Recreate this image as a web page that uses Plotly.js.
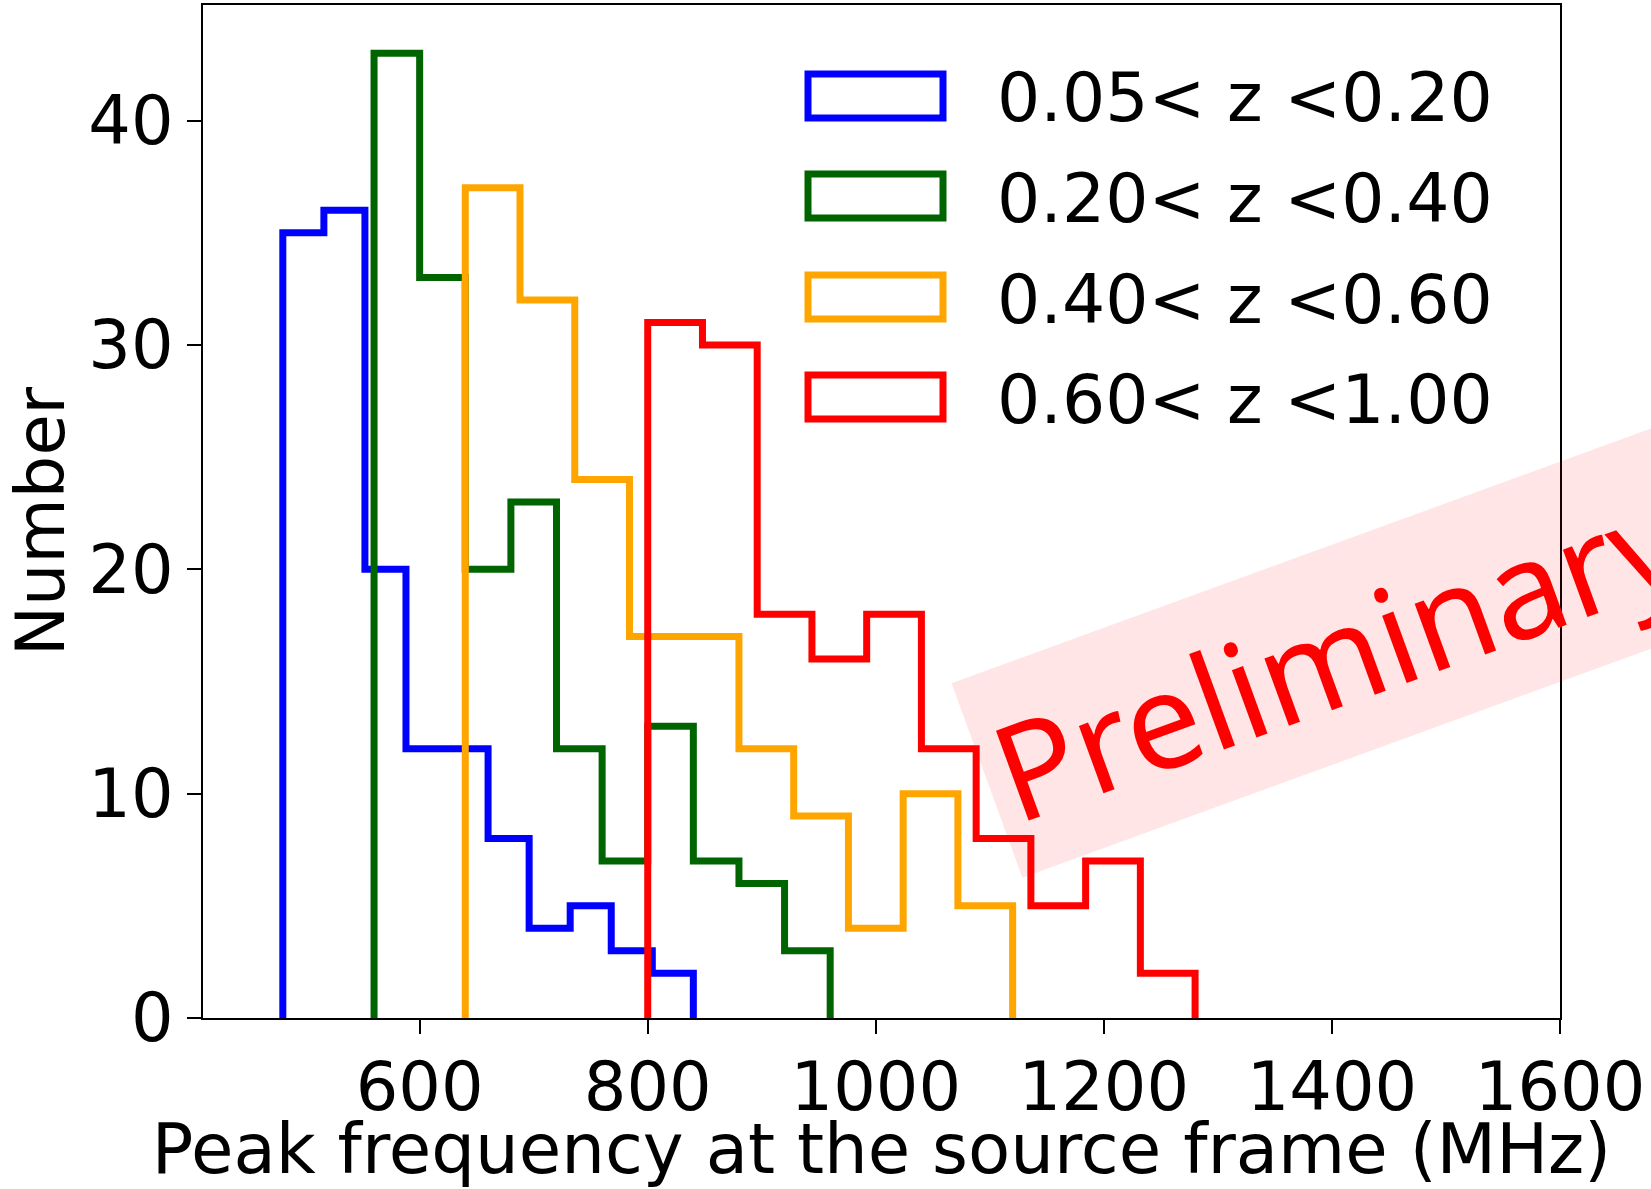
<!DOCTYPE html>
<html>
<head>
<meta charset="utf-8">
<script src="https://cdn.plot.ly/plotly-3.0.1.min.js"></script>
<style>html,body{margin:0;padding:0;background:#fff;}#chart{width:1651px;height:1189px;}</style>
</head>
<body>
<div id="chart"></div>
<script>
// ---- data ----
const seriesLabels = ["0.05< z <0.20", "0.20< z <0.40", "0.40< z <0.60", "0.60< z <1.00"];
const seriesColors = ["#0000ff", "#006400", "#ffa500", "#ff0000"];

const edgesZ1 = [480, 516, 552, 588, 624, 660, 696, 732, 768, 804, 840];
const countsZ1 = [35, 36, 20, 12, 12, 8, 4, 5, 3, 2];

const edgesZ2 = [560, 600, 640, 680, 720, 760, 800, 840, 880, 920, 960];
const countsZ2 = [43, 33, 20, 23, 12, 7, 13, 7, 6, 3];

const edgesZ3 = [640, 688, 736, 784, 832, 880, 928, 976, 1024, 1072, 1120];
const countsZ3 = [37, 32, 24, 17, 17, 12, 9, 4, 10, 5];

const edgesZ4 = [800, 848, 896, 944, 992, 1040, 1088, 1136, 1184, 1232, 1280];
const countsZ4 = [31, 30, 18, 16, 18, 12, 8, 5, 7, 2];

const xTickVals = [600, 800, 1000, 1200, 1400, 1600];
const yTickVals = [0, 10, 20, 30, 40];

// ---- build step outlines (matplotlib histtype='step') ----
function stepTrace(edges, counts, color, name) {
  const x = [edges[0]];
  const y = [0];
  for (let i = 0; i < counts.length; i++) { x.push(edges[i]); y.push(counts[i]); }
  x.push(edges[edges.length - 1]); y.push(0);
  return {
    type: "scatter", mode: "lines", x: x, y: y, name: name,
    line: { color: color, width: 7, shape: "hv" },
    showlegend: false, hoverinfo: "skip"
  };
}

const allEdges = [edgesZ1, edgesZ2, edgesZ3, edgesZ4];
const allCounts = [countsZ1, countsZ2, countsZ3, countsZ4];
const traces = allEdges.map((e, i) => stepTrace(e, allCounts[i], seriesColors[i], seriesLabels[i]));

// ---- geometry ----
const W = 1651, H = 1189;
const plotL = 203, plotR = 1560, plotT = 5, plotB = 1018;
const px2x = p => (p - plotL) / (plotR - plotL);
const py2y = p => (plotB - p) / (plotB - plotT);

const FONT = "DejaVu Sans";
const FS = 67;

// custom legend (outlined rectangles like matplotlib patches)
const legendRowsPx = [96, 196, 297, 397];
const shapes = [];
const annotations = [];
seriesLabels.forEach((lab, i) => {
  const cy = legendRowsPx[i];
  shapes.push({
    type: "rect", xref: "paper", yref: "paper",
    x0: px2x(808), x1: px2x(943), y0: py2y(cy + 22), y1: py2y(cy - 22),
    line: { color: seriesColors[i], width: 7 }, fillcolor: "rgba(0,0,0,0)"
  });
  annotations.push({
    xref: "paper", yref: "paper", x: px2x(995), y: py2y(cy + 2),
    xanchor: "left", yanchor: "middle", showarrow: false,
    text: lab.replace(/</g, "&lt;"),
    font: { family: FONT, size: 68, color: "#000" }
  });
});

// y-axis title placed like matplotlib's
annotations.push({
  xref: "paper", yref: "paper", x: px2x(41), y: py2y(521),
  xanchor: "center", yanchor: "middle", showarrow: false,
  text: "Number", textangle: -90,
  font: { family: FONT, size: FS, color: "#000" }
});

// watermark
annotations.push({
  xref: "paper", yref: "paper", x: px2x(1337), y: py2y(653),
  xanchor: "center", yanchor: "middle", showarrow: false,
  text: "Preliminary", textangle: -20,
  font: { family: "Noto Sans", size: 134, color: "#ff0000" },
  bgcolor: "rgba(255,0,0,0.1)", borderpad: 12
});

const layout = {
  width: W, height: H,
  margin: { l: plotL, r: W - plotR, t: plotT, b: H - plotB, pad: 0 },
  paper_bgcolor: "#fff", plot_bgcolor: "#fff",
  font: { family: FONT, size: FS, color: "#000" },
  showlegend: false,
  xaxis: {
    range: [410, 1600], tickvals: xTickVals, ticktext: xTickVals.map(String),
    showgrid: false, zeroline: false,
    showline: true, linecolor: "#000", linewidth: 2, mirror: true,
    ticks: "outside", ticklen: 14, tickwidth: 2, tickcolor: "#000",
    ticklabelstandoff: -4,
    tickfont: { family: FONT, size: FS, color: "#000" },
    title: { text: "Peak frequency at the source frame (MHz)", font: { family: FONT, size: 69, color: "#000" }, standoff: 19 },
    automargin: false
  },
  yaxis: {
    range: [0, 45.15], tickvals: yTickVals, ticktext: yTickVals.map(String),
    showgrid: false, zeroline: false,
    showline: true, linecolor: "#000", linewidth: 2, mirror: true,
    ticks: "outside", ticklen: 14, tickwidth: 2, tickcolor: "#000",
    tickfont: { family: FONT, size: FS, color: "#000" },
    automargin: false
  },
  shapes: shapes,
  annotations: annotations
};

Plotly.newPlot("chart", traces, layout, { staticPlot: true, displayModeBar: false });
</script>
</body>
</html>
